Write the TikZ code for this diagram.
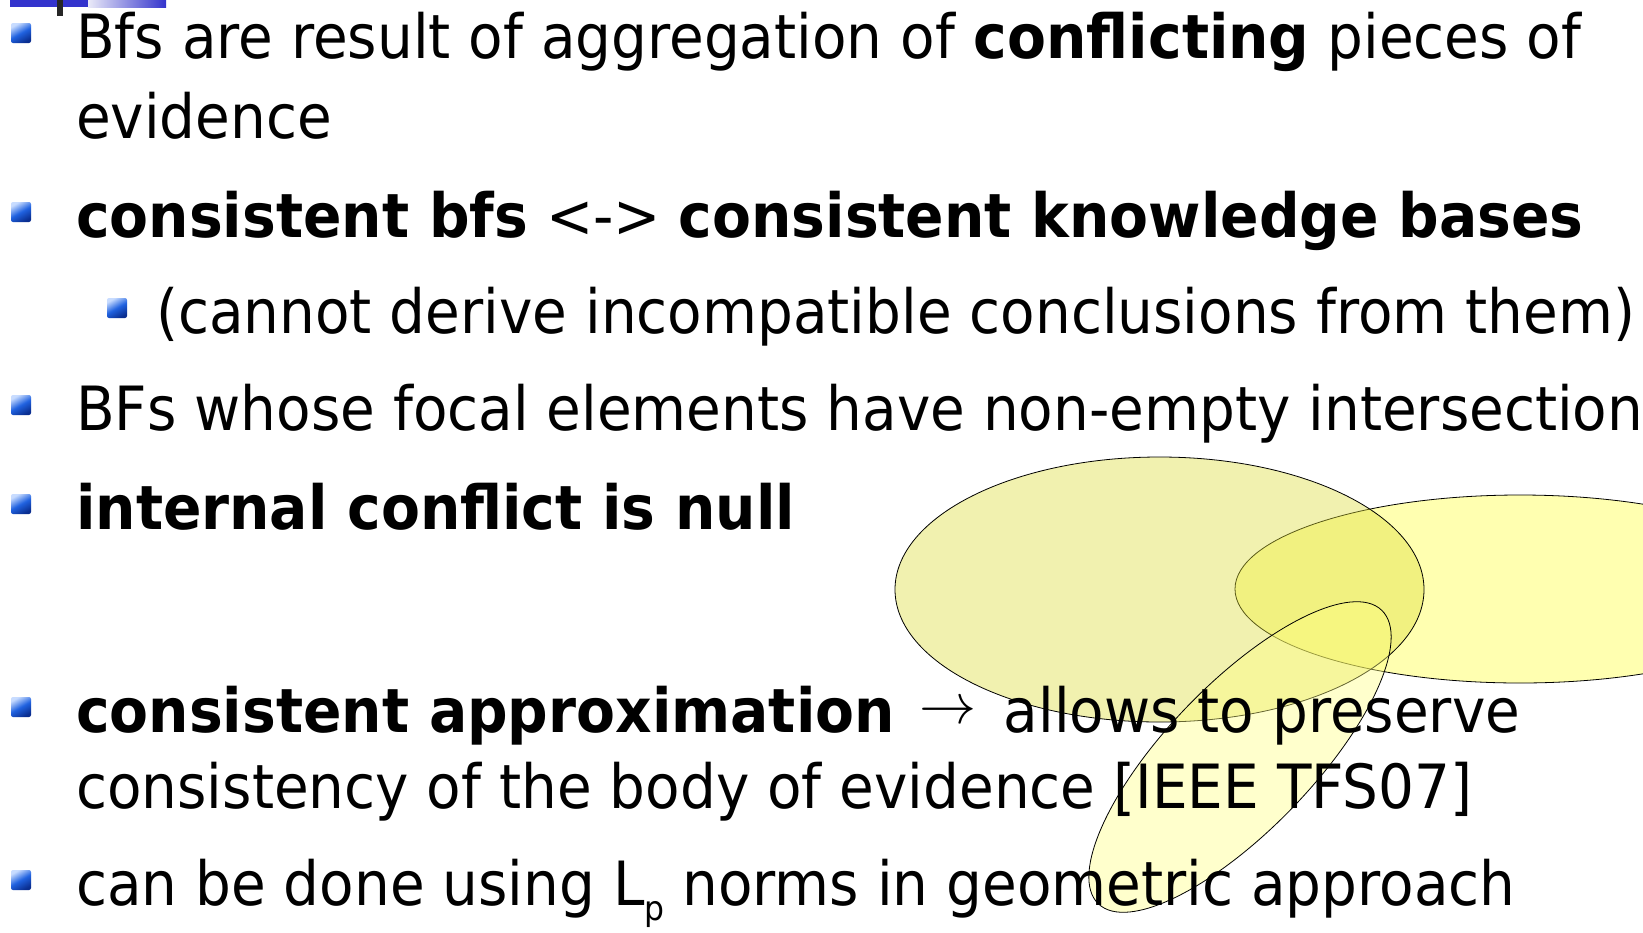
\documentclass[tikz,border=0pt]{standalone}
\usepackage{graphicx}
\usepackage{fontspec}
\setmainfont{DejaVu Sans}[FakeStretch=0.925, BoldFeatures={FakeStretch=0.93}]
\definecolor{slideblue}{HTML}{3333CC}
\definecolor{barlight}{HTML}{EAEAF8}
\definecolor{bulletlight}{HTML}{C8DCFF}
\definecolor{bulletmid}{HTML}{2062E0}
\definecolor{bulletdark}{HTML}{0A2E90}
\definecolor{setA}{HTML}{DEDE39}
\definecolor{setB}{HTML}{FFFFB0}
\definecolor{setC}{HTML}{FFFF80}
\begin{document}
\begin{tikzpicture}[x=1pt, y=-1pt,
  line/.style={anchor=base west, inner sep=0pt, font=\fontsize{61}{73}\selectfont},
  bullet/.style={rectangle, inner sep=0pt, minimum size=20pt, rounded corners=2pt, top color=bulletlight, bottom color=bulletdark, middle color=bulletmid, shading angle=30},
  focal/.style={draw=black, line width=0.8pt}]
\clip (0,0) rectangle (1643,932);
\fill[white] (0,0) rectangle (1643,932);
\fill[slideblue] (10,0) rectangle (88,7);
\shade[left color=barlight, right color=slideblue] (88,0) rectangle (166,7);
\fill[black!85] (57,0) rectangle (63,16);
\draw[focal, fill=setB] (1520,589) ellipse [x radius=285pt, y radius=94pt];
\draw[focal, fill=setA, fill opacity=0.4] (1159.5,589.5) ellipse [x radius=264.5pt, y radius=132.5pt];
\draw[focal, fill=setC, fill opacity=0.4, rotate around={46:(1240,757)}] (1240,757) ellipse [x radius=204pt, y radius=73pt];
\node[bullet] (b1) at (21,33) {};
\node[bullet] (b3) at (21,212) {};
\node[bullet] (b4) at (117,308) {};
\node[bullet] (b5) at (21,405) {};
\node[bullet] (b6) at (21,504) {};
\node[bullet] (b7) at (21,707) {};
\node[bullet] (b9) at (21,880) {};
\node[line] (bfs) at (76,58) {Bfs are result of aggregation of \textbf{conflicting} pieces of};
\node[line] (evid) at (76,138) {evidence};
\node[line] (cons) at (76,237) {\textbf{consistent bfs} <-> \textbf{consistent knowledge bases}};
\node[line] (derive) at (156,333) {(cannot derive incompatible conclusions from them)};
\node[line] (nonempty) at (76,430) {BFs whose focal elements have non-empty intersection};
\node[line] (internal) at (76,529) {\textbf{internal conflict is null}};
\node[line] (approx) at (76,732) {\textbf{consistent approximation}\hspace{25pt}\raisebox{9pt}{\resizebox{57pt}{!}{$\rightarrow$}}\hspace{27pt}allows to preserve};
\node[line] (body) at (76,808) {consistency of the body of evidence [IEEE TFS07]};
\node[line] (norms) at (76,905) {can be done using L\raisebox{-15pt}{\fontsize{34}{34}\selectfont p} norms in geometric approach};
\end{tikzpicture}
\end{document}
